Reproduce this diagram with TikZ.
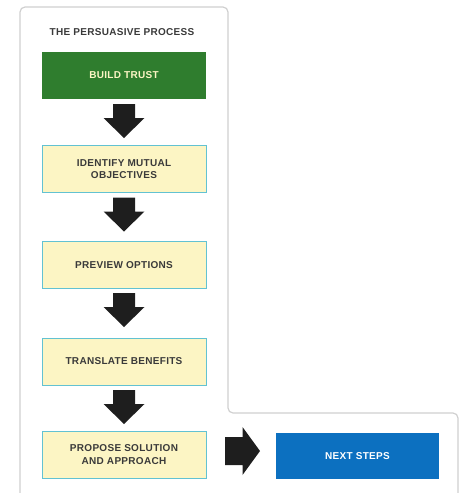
\documentclass[tikz,border=0pt]{standalone}
\usepackage{fontspec}
\setmainfont{Liberation Sans}
\newfontfamily\labelfont[LetterSpace=3]{Liberation Sans}
\definecolor{trustgreen}{HTML}{2F7D2E}
\definecolor{paleyellow}{HTML}{FCF5C4}
\definecolor{boxcyan}{HTML}{62C2D2}
\definecolor{nextblue}{HTML}{0C70C0}
\definecolor{panelgray}{HTML}{D0D0D0}
\definecolor{txtdark}{HTML}{3A3A3A}
\definecolor{arrowblack}{HTML}{1E1E1E}
\tikzset{
  stepbox/.style={draw=boxcyan, line width=1pt, fill=paleyellow, minimum width=164pt, minimum height=47pt,
    inner sep=0pt, align=center, font=\labelfont\bfseries\fontsize{10}{12.5}\selectfont, text=txtdark},
  greenbox/.style={stepbox, draw=none, fill=trustgreen, text=paleyellow},
  bluebox/.style={stepbox, draw=none, fill=nextblue, minimum width=163pt, minimum height=46pt, text=white},
  blockarrow/.style={fill=arrowblack},
}
\newcommand{\downblock}[1]{\fill[blockarrow, shift={(#1)}] (-11,-17) -- (11,-17) -- (11,-3) -- (20.5,-3) -- (0,17) -- (-20.5,-3) -- (-11,-3) -- cycle;}
\newcommand{\rightblock}[1]{\fill[blockarrow, shift={(#1)}] (-17.5,-14) -- (0,-14) -- (0,-24) -- (17.5,0) -- (0,24) -- (0,14) -- (-17.5,14) -- cycle;}
\begin{document}
\begin{tikzpicture}[x=1pt,y=-1pt]
\useasboundingbox (0,0) rectangle (466,493);
\draw[panelgray, line width=1.2pt, rounded corners=5pt]
  (20,495) -- (20,7) -- (228,7) -- (228,413) -- (458,413) -- (458,495);
\node[font=\labelfont\bfseries\fontsize{10}{12}\selectfont, text=txtdark] (title) at (122,32) {THE PERSUASIVE PROCESS};
\node[greenbox] (b1) at (124,75.5) {BUILD TRUST};
\node[stepbox] (b2) at (124,169) {IDENTIFY MUTUAL\\OBJECTIVES};
\node[stepbox] (b3) at (124,265) {PREVIEW OPTIONS};
\node[stepbox] (b4) at (124,361.5) {TRANSLATE BENEFITS};
\node[stepbox] (b5) at (124,454.5) {PROPOSE SOLUTION\\AND APPROACH};
\node[bluebox] (b6) at (357.5,456) {NEXT STEPS};
\coordinate (a1) at (124,121);
\coordinate (a2) at (124,214.5);
\coordinate (a3) at (124,310);
\coordinate (a4) at (124,407);
\coordinate (a5) at (242.5,451);
\downblock{a1}
\downblock{a2}
\downblock{a3}
\downblock{a4}
\rightblock{a5}
\end{tikzpicture}
\end{document}
